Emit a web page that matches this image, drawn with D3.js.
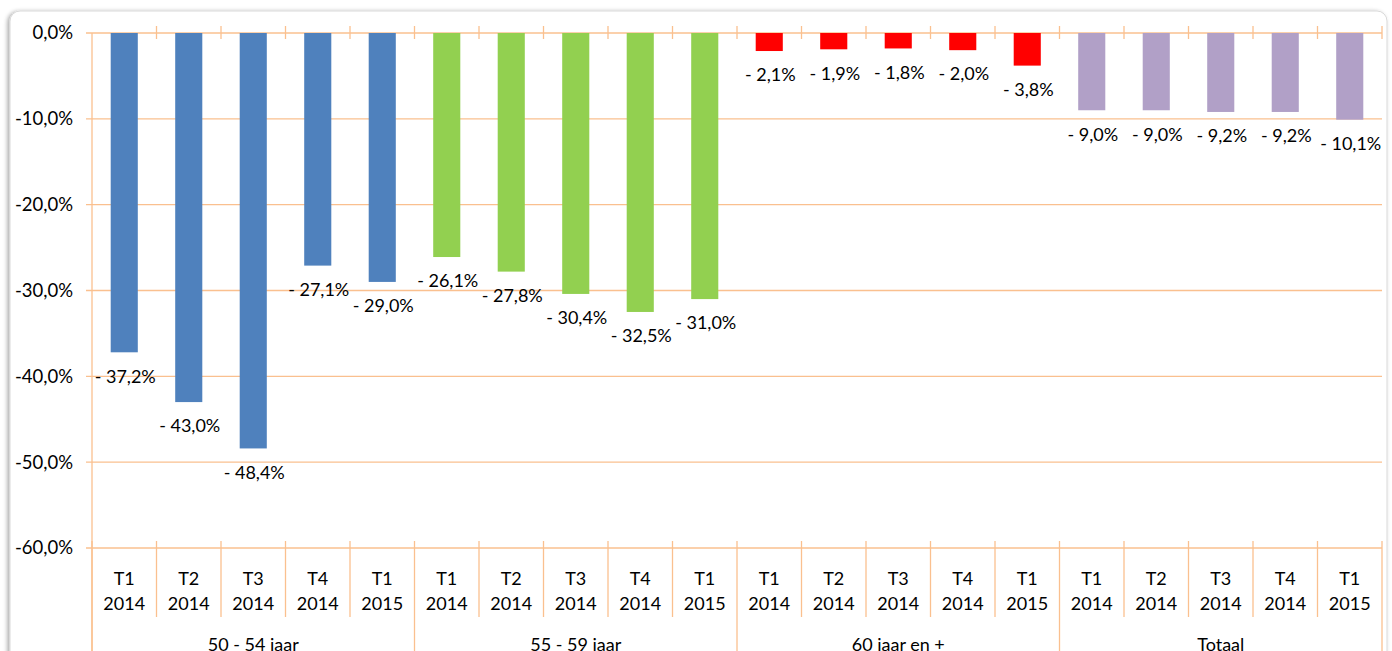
<!DOCTYPE html>
<html lang="nl">
<head>
  <meta charset="UTF-8">
  <title>Evolutie per leeftijdsgroep</title>
  <script src="https://cdn.jsdelivr.net/npm/d3@7"></script>
  <style>
    body {
      margin: 0;
      overflow: hidden;
      background-color: #fff;
      font-family: Lato, "Open Sans", sans-serif;
    }
    svg {
      display: block;
    }
    svg text {
      fill: #000;
    }
  </style>
</head>
<body>
  <div id="chart"></div>
  <script>
    // Data
    const groups = ["50 - 54 jaar", "55 - 59 jaar", "60 jaar en +", "Totaal"];
    const periods = ["T1 2014", "T2 2014", "T3 2014", "T4 2014", "T1 2015"];
    const colors = ["#4f81bd", "#92d050", "#ff0000", "#b1a0c7"];
    const values50 = [-37.2, -43.0, -48.4, -27.1, -29.0];
    const values55 = [-26.1, -27.8, -30.4, -32.5, -31.0];
    const values60 = [-2.1, -1.9, -1.8, -2.0, -3.8];
    const valuesTot = [-9.0, -9.0, -9.2, -9.2, -10.1];
    const yTicks = [0, -10, -20, -30, -40, -50, -60];

    const series = [values50, values55, values60, valuesTot];
    const data = [];
    series.forEach((vals, g) => {
      vals.forEach((v, i) => {
        data.push({ key: g + "|" + i, group: g, period: periods[i], value: v });
      });
    });

    const W = 1392, H = 651;
    const plotLeft = 92, plotRight = 1382, plotTop = 33, plotBottom = 548;
    const grid = "#fac08f";
    const fs = "18px";

    const svg = d3.select("#chart")
      .append("svg")
      .attr("width", W)
      .attr("height", H);

    // frame with a soft shadow
    const defs = svg.append("defs");
    const f = defs.append("filter").attr("id", "sh").attr("x", "-5%").attr("y", "-5%")
      .attr("width", "110%").attr("height", "110%");
    f.append("feDropShadow").attr("dx", -2).attr("dy", 1).attr("stdDeviation", 2)
      .attr("flood-color", "#000").attr("flood-opacity", 0.35);

    svg.append("rect")
      .attr("x", 10).attr("y", 11)
      .attr("width", 1377).attr("height", 680)
      .attr("rx", 10)
      .attr("fill", "#fff")
      .attr("stroke", "#d9d9d9")
      .attr("filter", "url(#sh)");

    const x = d3.scaleBand()
      .domain(data.map(d => d.key))
      .range([plotLeft, plotRight])
      .paddingInner(0)
      .paddingOuter(0);

    const y = d3.scaleLinear()
      .domain([-60, 0])
      .range([plotBottom, plotTop]);

    // horizontal gridlines
    svg.append("g")
      .selectAll("line")
      .data(yTicks)
      .enter()
      .append("line")
      .attr("x1", plotLeft - 6)
      .attr("x2", plotRight)
      .attr("y1", d => y(d))
      .attr("y2", d => y(d))
      .attr("stroke", grid)
      .attr("stroke-width", 1.3);

    // y axis labels
    const fmt = d => d3.format(".1f")(d).replace(".", ",").replace("−", "-") + "%";
    svg.append("g")
      .selectAll("text")
      .data(yTicks)
      .enter()
      .append("text")
      .attr("x", 73)
      .attr("y", d => y(d))
      .attr("dy", "0.35em")
      .attr("text-anchor", "end")
      .style("font-size", "18.5px")
      .text(d => fmt(d));

    // left axis line, down to the bottom
    svg.append("line")
      .attr("x1", plotLeft).attr("x2", plotLeft)
      .attr("y1", plotTop).attr("y2", H)
      .attr("stroke", grid).attr("stroke-width", 1.3);

    // category boundaries
    const bounds = d3.range(data.length + 1).map(i => plotLeft + i * x.bandwidth());

    // cross ticks at the zero line
    svg.append("g")
      .selectAll("line")
      .data(bounds.slice(1))
      .enter()
      .append("line")
      .attr("x1", d => d).attr("x2", d => d)
      .attr("y1", plotTop - 7).attr("y2", plotTop + 6)
      .attr("stroke", grid).attr("stroke-width", 1.3);

    // separators below the plot
    svg.append("g")
      .selectAll("line")
      .data(bounds)
      .enter()
      .append("line")
      .attr("x1", d => d).attr("x2", d => d)
      .attr("y1", plotBottom - 7)
      .attr("y2", (d, i) => i % 5 === 0 ? H : 617)
      .attr("stroke", grid).attr("stroke-width", 1.3);

    // bars
    svg.append("g")
      .selectAll("rect")
      .data(data)
      .enter()
      .append("rect")
      .attr("x", d => x(d.key) + x.bandwidth() * 0.29)
      .attr("width", x.bandwidth() * 0.42)
      .attr("y", y(0))
      .attr("height", d => y(d.value) - y(0))
      .attr("fill", d => colors[d.group]);

    // value labels
    const lab = v => "- " + d3.format(".1f")(Math.abs(v)).replace(".", ",") + "%";
    svg.append("g")
      .selectAll("text")
      .data(data)
      .enter()
      .append("text")
      .attr("x", d => x(d.key) + x.bandwidth() / 2 + 1)
      .attr("y", d => y(d.value) + 24)
      .attr("dy", "0.35em")
      .attr("text-anchor", "middle")
      .style("font-size", fs)
      .text(d => lab(d.value));

    // period labels (two lines)
    const pl = svg.append("g")
      .selectAll("text")
      .data(data)
      .enter()
      .append("text")
      .attr("text-anchor", "middle")
      .style("font-size", fs);
    pl.append("tspan")
      .attr("x", d => x(d.key) + x.bandwidth() / 2)
      .attr("y", 585)
      .text(d => d.period.split(" ")[0]);
    pl.append("tspan")
      .attr("x", d => x(d.key) + x.bandwidth() / 2)
      .attr("y", 610)
      .text(d => d.period.split(" ")[1]);

    // group labels (cut by the bottom edge, as in the source)
    const gw = x.bandwidth() * periods.length;
    svg.append("g")
      .selectAll("text")
      .data(groups)
      .enter()
      .append("text")
      .attr("x", (d, i) => plotLeft + gw * i + gw / 2)
      .attr("y", 651)
      .attr("text-anchor", "middle")
      .style("font-size", fs)
      .text(d => d);
  </script>
</body>
</html>
